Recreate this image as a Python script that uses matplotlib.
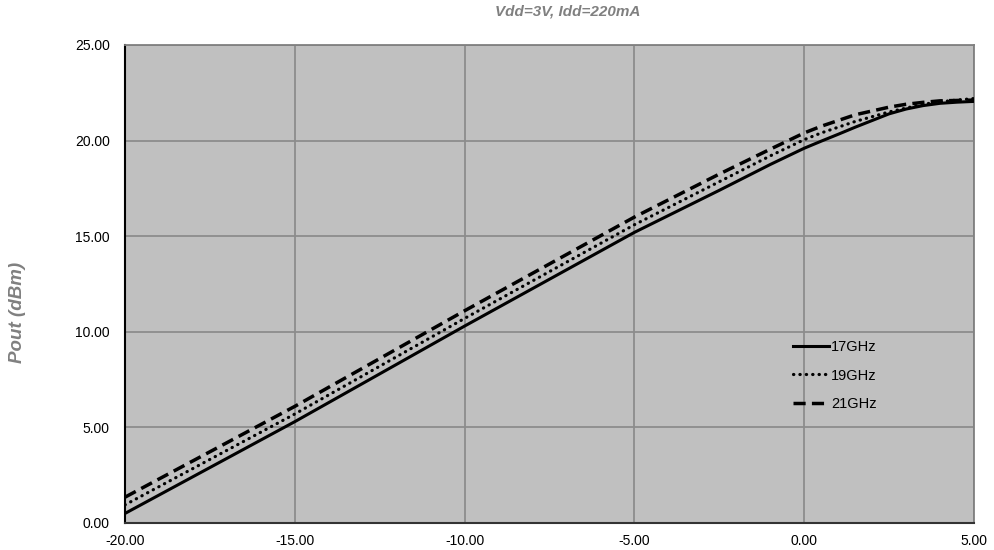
import numpy as np
import matplotlib.pyplot as plt

plt.rcParams['font.family'] = ['Liberation Sans', 'DejaVu Sans']

# input power (dBm)
pin = [-20, -15, -10, -5, -2.5, -1, 0, 0.5, 1, 1.5, 2, 2.5, 3, 3.5, 4, 4.5, 5]
# output power (dBm) per frequency
pout_17 = [0.5, 5.3, 10.3, 15.2, 17.4, 18.75, 19.6, 19.97, 20.33, 20.7, 21.05, 21.4, 21.65, 21.83, 21.95, 22.01, 22.05]
pout_19 = [0.95, 5.7, 10.7, 15.6, 17.85, 19.2, 20.05, 20.4, 20.7, 21.0, 21.25, 21.5, 21.7, 21.9, 22.03, 22.12, 22.2]
pout_21 = [1.35, 6.1, 11.1, 16.0, 18.25, 19.55, 20.4, 20.75, 21.05, 21.35, 21.55, 21.75, 21.9, 22.0, 22.08, 22.1, 22.12]
labels = ['17GHz', '19GHz', '21GHz']

x_ticks = [-20, -15, -10, -5, 0, 5]
y_ticks = [0, 5, 10, 15, 20, 25]

fig = plt.figure(figsize=(9.94, 5.5), dpi=100)
ax = fig.add_axes([125/994, 1-523/550, 849/994, 478/550])
ax.set_facecolor('#c0c0c0')

ax.plot(pin, pout_17, color='black', lw=2.2, ls='-', label=labels[0], zorder=3)
ax.plot(pin, pout_19, color='black', lw=2.3, ls=(0, (0.1, 1.9)), dash_capstyle='round', label=labels[1], zorder=3)
ax.plot(pin, pout_21, color='black', lw=2.5, ls=(0, (3.5, 1.8)), label=labels[2], zorder=3)

ax.set_xlim(-20, 5)
ax.set_ylim(0, 25)
ax.set_xticks(x_ticks)
ax.set_yticks(y_ticks)
ax.set_xticklabels(['%.2f' % v for v in x_ticks])
ax.set_yticklabels(['%.2f' % v for v in y_ticks])
ax.tick_params(length=0, labelsize=10)
ax.tick_params(axis='y', pad=11)
ax.tick_params(axis='x', pad=8)
ax.grid(True, color='#8c8c8c', lw=1.3)
ax.set_axisbelow(True)

for s in ['top', 'right']:
    ax.spines[s].set_color('#808080')
    ax.spines[s].set_linewidth(1.3)
ax.spines['left'].set_color('black')
ax.spines['left'].set_linewidth(1.5)
ax.spines['bottom'].set_color('#333333')
ax.spines['bottom'].set_linewidth(1.5)

fig.text(568/994, 1-12/550, 'Vdd=3V, Idd=220mA', ha='center', va='center',
         fontsize=11, fontweight='bold', fontstyle='italic', color='#808080')
fig.text(18/994, 1-312/550, 'Pout (dBm)', ha='center', va='center', rotation=90,
         fontsize=13.5, fontweight='bold', fontstyle='italic', color='#808080')

ax.legend(loc='upper left', bbox_to_anchor=((793-125)/849, (523-340)/478), frameon=False,
          fontsize=10.5, handlelength=2.5, handletextpad=0.1, labelspacing=1.0,
          borderpad=0, borderaxespad=0)

fig.savefig('out.png', dpi=100)
